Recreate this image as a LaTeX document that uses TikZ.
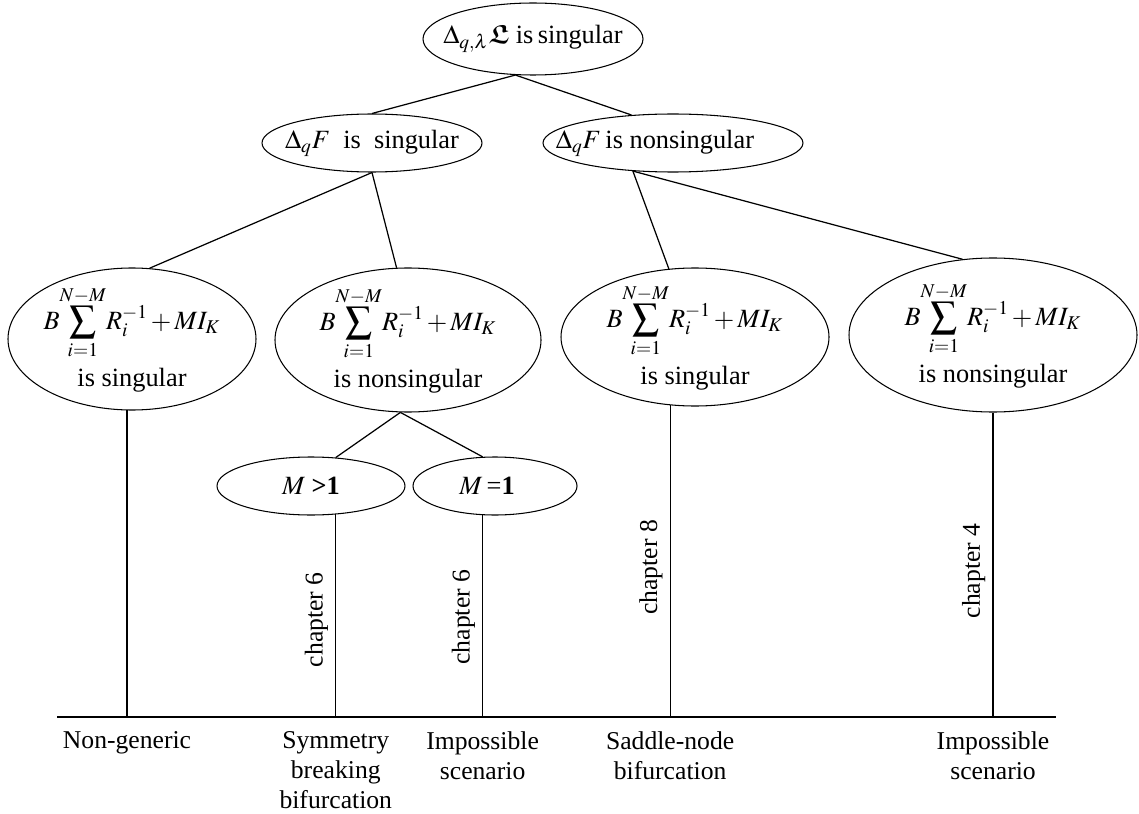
\documentclass[tikz,border=0pt]{standalone}
\usepackage{amsmath}
\usepackage{amssymb}
\usepackage{mathptmx}
\usepackage{fontspec}
\setmainfont{Liberation Serif}
\usetikzlibrary{shapes.geometric, calc}
\newcommand{\bsum}{\medmuskip=2mu\displaystyle B\!\sum_{i=1}^{N-M}\!R_i^{-1}+MI_K}

\begin{document}
\begin{tikzpicture}[
    x=0.02cm, y=-0.02cm,
    every node/.style={font=\fontsize{14.6}{17}\selectfont},
    oval/.style 2 args={draw, ellipse, line width=0.6pt, inner sep=0pt,
                        minimum width={0.02cm*#1}, minimum height={0.02cm*#2}},
    txt/.style={align=center, inner sep=0pt, font=\fontsize{15}{17}\selectfont},
    link/.style={line width=0.7pt},
    chap/.style={rotate=90, anchor=south, inner sep=4pt, pos=0.52},
    lbl/.style={below=8pt, inner sep=0pt, align=center},
]
    \useasboundingbox (0,0) rectangle (1139,814);

    % Root of the tree.
    \node[oval={220}{72}] (root) at (533,39) {};
    \node[txt] (root-t) at (root) {$\Delta_{q,\lambda}\boldsymbol{\mathfrak{L}}$ is\,singular};

    % Second level: Delta_q F.
    \node[oval={220}{58}] (fs) at (372,143) {};
    \node[txt] (fs-t) at (fs) {$\Delta_q F$\ \ is\ \ singular};
    \node[oval={260}{58}] (fn) at (673,143) {};
    \node[txt] (fn-t) at ($(fn.center)+(-18,0)$) {$\Delta_q F$\,is nonsingular};

    % Third level: the four sum ellipses.
    \node[oval={248}{142}] (e1) at (132,339) {};
    \node[txt] (e1-t) at (e1) {$\bsum$\\[4pt] is singular};
    \node[oval={266}{144}] (e2) at (408,340) {};
    \node[txt] (e2-t) at (e2) {$\bsum$\\[4pt] is nonsingular};
    \node[oval={268}{138}] (e3) at (695,337) {};
    \node[txt] (e3-t) at (e3) {$\bsum$\\[4pt] is singular};
    \node[oval={288}{154}] (e4) at (993,335) {};
    \node[txt] (e4-t) at (e4) {$\bsum$\\[4pt] is nonsingular};

    % M cases under the nonsingular branch.
    \node[oval={188}{58}] (ma) at (311,486) {};
    \node[txt] (ma-t) at (ma) {$M$ \textbf{>1}};
    \node[oval={164}{58}] (mb) at (495,486) {};
    \node[txt] (mb-t) at ($(mb.center)+(-8,0)$) {$M$\,=\textbf{1}};

    % Tree edges.
    \draw[link] (root.244) -- (fs.north);
    \draw[link] (root.244) -- (fn.146);
    \draw[link] (fs.south) -- (e1.76);
    \draw[link] (fs.south) -- (e2.99);
    \draw[link] (fn.215) -- (e3.111);
    \draw[link] (fn.215) -- (e4.112);
    \draw[link] (e2.264) -- (ma.49);
    \draw[link] (e2.264) -- (mb.113);

    % Base line and the outcomes.
    \coordinate (bl) at (57,717);
    \coordinate (br) at (1056,717);
    \draw[link] (bl) -- (br);

    \draw[link] (e1.266) -- (e1.266 |- bl) node[lbl] (o1) {Non-generic};
    \draw[link] (ma.311) -- (ma.311 |- bl)
        node[chap] (c1) {chapter 6}
        node[pos=1, lbl] (o2) {Symmetry\\breaking\\bifurcation};
    \draw[link] (mb.247) -- (mb.247 |- bl)
        node[chap, pos=0.505] (c2) {chapter 6}
        node[pos=1, lbl] (o3) {Impossible\\scenario};
    \draw[link] (e3.250) -- (e3.250 |- bl)
        node[chap] (c3) {chapter 8}
        node[pos=1, lbl] (o4) {Saddle-node\\bifurcation};
    \draw[link] (e4.south) -- (e4.south |- bl)
        node[chap] (c4) {chapter 4}
        node[pos=1, lbl] (o5) {Impossible\\scenario};
\end{tikzpicture}
\end{document}
